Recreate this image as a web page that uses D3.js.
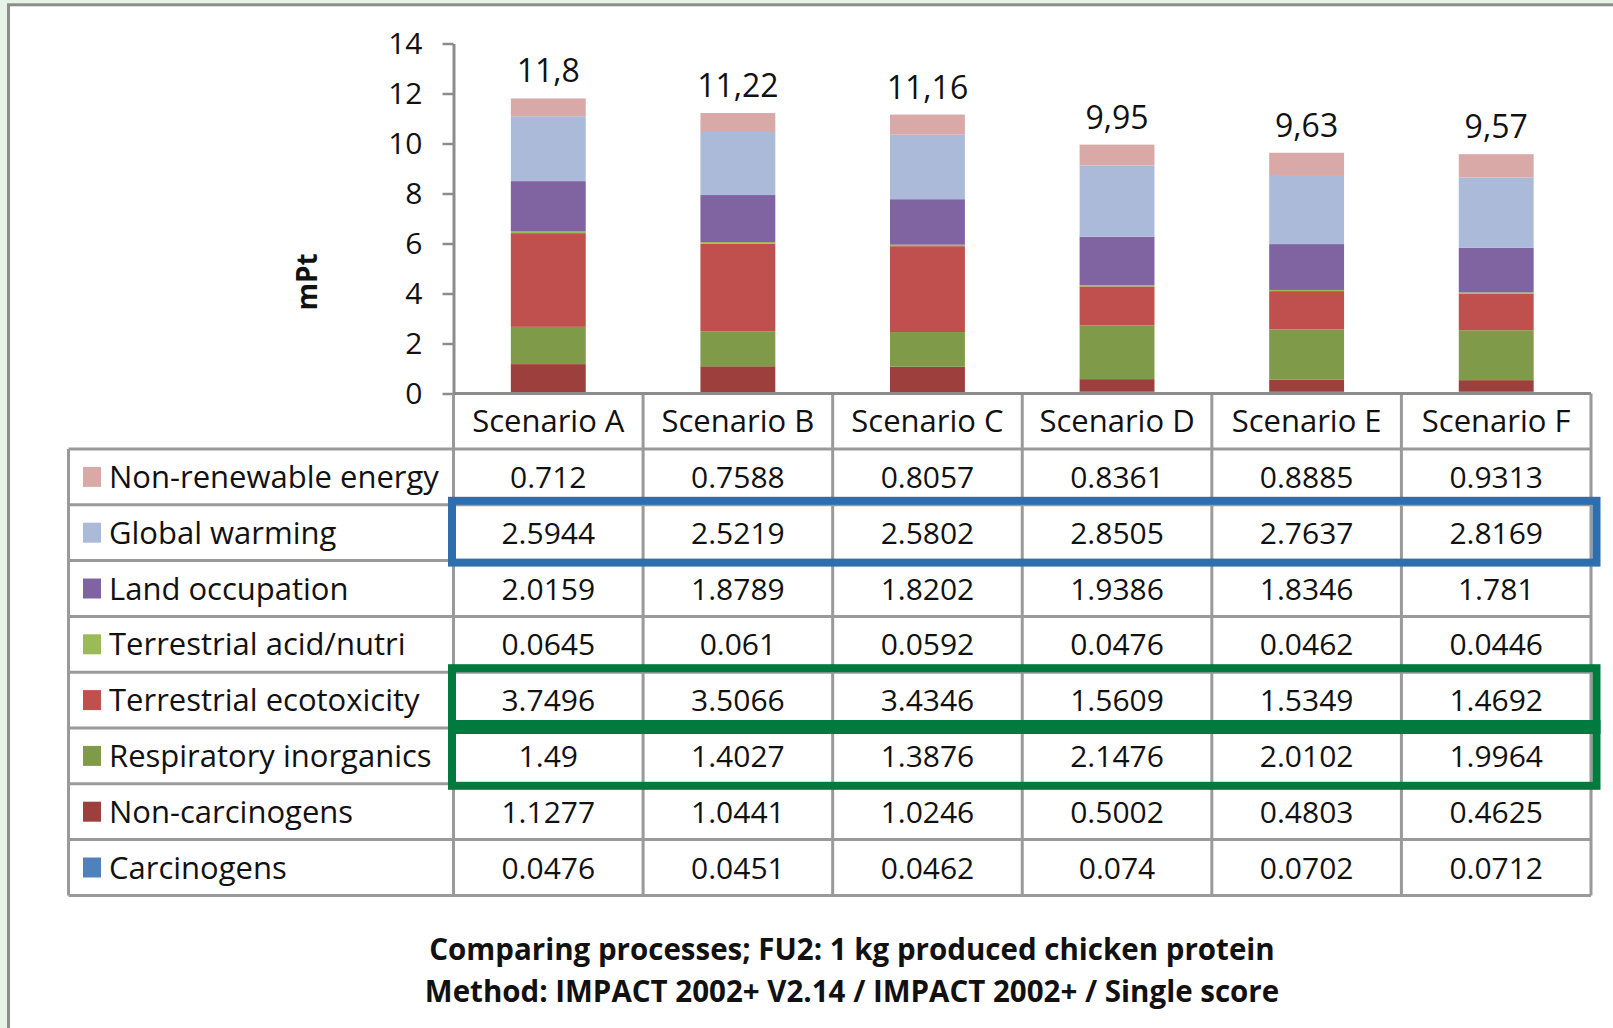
<!DOCTYPE html>
<html>
<head>
<meta charset="utf-8">
<script src="https://cdn.jsdelivr.net/npm/d3@7"></script>
<style>
  body { margin: 0; background: #e6f3e7; }
  svg { display: block; }
  text { font-family: "Open Sans", sans-serif; fill: #111; }
</style>
</head>
<body>
<svg id="chart" width="1613" height="1028"></svg>
<script>
const scenarios = ["Scenario A", "Scenario B", "Scenario C", "Scenario D", "Scenario E", "Scenario F"];

// impact categories, table order (top row first)
const categories = [
  "Non-renewable energy",
  "Global warming",
  "Land occupation",
  "Terrestrial acid/nutri",
  "Terrestrial ecotoxicity",
  "Respiratory inorganics",
  "Non-carcinogens",
  "Carcinogens",
];

const nonRenewableEnergy = [0.712, 0.7588, 0.8057, 0.8361, 0.8885, 0.9313];
const globalWarming = [2.5944, 2.5219, 2.5802, 2.8505, 2.7637, 2.8169];
const landOccupation = [2.0159, 1.8789, 1.8202, 1.9386, 1.8346, 1.781];
const terrestrialAcid = [0.0645, 0.061, 0.0592, 0.0476, 0.0462, 0.0446];
const terrestrialEcotox = [3.7496, 3.5066, 3.4346, 1.5609, 1.5349, 1.4692];
const respiratoryInorganics = [1.49, 1.4027, 1.3876, 2.1476, 2.0102, 1.9964];
const nonCarcinogens = [1.1277, 1.0441, 1.0246, 0.5002, 0.4803, 0.4625];
const carcinogens = [0.0476, 0.0451, 0.0462, 0.074, 0.0702, 0.0712];

const totalLabels = ["11,8", "11,22", "11,16", "9,95", "9,63", "9,57"];
const yTicks = [0, 2, 4, 6, 8, 10, 12, 14];

const seriesValues = [
  nonRenewableEnergy,
  globalWarming,
  landOccupation,
  terrestrialAcid,
  terrestrialEcotox,
  respiratoryInorganics,
  nonCarcinogens,
  carcinogens,
];
const colors = ["#d9a9a8", "#aabad8", "#8064a2", "#9bbb59", "#c0504d", "#7f9a48", "#9c3f3d", "#4f81bd"];

const svg = d3.select("#chart");

const fontSize = 31;
const numSize = 30;
const baseShift = 11; // puts cap height centred on a y
const axisColor = "#8c8c8c";
const gridColor = "#9a9a9a";

// frame
svg.append("rect")
  .attr("x", 8.5).attr("y", 4.8)
  .attr("width", 1700).attr("height", 1100)
  .attr("fill", "#fff")
  .attr("stroke", axisColor)
  .attr("stroke-width", 3);

// rows for d3.stack: one object per scenario
const table = scenarios.map((s, i) => {
  const row = { scenario: s };
  categories.forEach((c, k) => (row[c] = seriesValues[k][i]));
  return row;
});

const left = 453.5, right = 1591;
const xScale = d3.scaleBand().domain(scenarios).range([left, right]);
const yScale = d3.scaleLinear().domain([0, 14]).range([393.5, 43.5]);
const barWidth = xScale.bandwidth() * 0.395;

const stack = d3.stack().keys(categories.slice().reverse()); // carcinogens at the bottom
const stacked = stack(table);
const colorScale = d3.scaleOrdinal().domain(categories).range(colors);

const g = svg.append("g");

g.selectAll("g.layer")
  .data(stacked)
  .enter()
  .append("g")
  .attr("class", "layer")
  .attr("fill", (d) => colorScale(d.key))
  .selectAll("rect")
  .data((d) => d)
  .enter()
  .append("rect")
  .attr("x", (d) => xScale(d.data.scenario) + (xScale.bandwidth() - barWidth) / 2)
  .attr("width", barWidth)
  .attr("y", (d) => yScale(d[1]))
  .attr("height", (d) => yScale(d[0]) - yScale(d[1]));

// total labels above bars
const totals = table.map((r) => d3.sum(categories, (c) => r[c]));
g.selectAll("text.total")
  .data(scenarios)
  .enter()
  .append("text")
  .attr("class", "total")
  .attr("x", (d) => xScale(d) + xScale.bandwidth() / 2)
  .attr("y", (d, i) => yScale(totals[i]) - 16)
  .attr("text-anchor", "middle")
  .attr("font-size", 32)
  .text((d, i) => totalLabels[i]);

// y axis
const yAxisG = svg.append("g")
  .attr("transform", `translate(${left},0)`)
  .call(d3.axisLeft(yScale).tickValues(yTicks).tickSize(11).tickPadding(20).tickSizeOuter(0));
yAxisG.select(".domain").attr("stroke", axisColor).attr("stroke-width", 3);
yAxisG.selectAll(".tick line").attr("stroke", axisColor).attr("stroke-width", 2.5);
yAxisG.selectAll(".tick text")
  .attr("font-size", numSize)
  .attr("font-family", null)
  .attr("fill", "#111");

svg.append("text")
  .text("mPt")
  .attr("transform", "translate(317,282) rotate(-90)")
  .attr("text-anchor", "middle")
  .attr("font-size", 28)
  .attr("font-weight", "bold");

// data table
const rowTop = 449, rowH = 55.8, headerTop = 393.5, tableLeft = 68.5;
const tableBottom = rowTop + rowH * categories.length;
const grid = svg.append("g")
  .attr("stroke", gridColor)
  .attr("stroke-width", 3)
  .attr("fill", "none");

// column lines (through header row)
const bounds = scenarios.map((s) => xScale(s)).concat([right]);
grid.selectAll("line.col")
  .data(bounds)
  .enter()
  .append("line")
  .attr("x1", (d) => d).attr("x2", (d) => d)
  .attr("y1", headerTop).attr("y2", tableBottom);

// row lines
grid.selectAll("line.row")
  .data(d3.range(categories.length + 1))
  .enter()
  .append("line")
  .attr("x1", tableLeft).attr("x2", right)
  .attr("y1", (d) => rowTop + d * rowH)
  .attr("y2", (d) => rowTop + d * rowH);

grid.append("line")
  .attr("x1", tableLeft).attr("x2", tableLeft)
  .attr("y1", rowTop).attr("y2", tableBottom);

// x axis line on top of the header row
svg.append("line")
  .attr("x1", left).attr("x2", right)
  .attr("y1", headerTop).attr("y2", headerTop)
  .attr("stroke", axisColor)
  .attr("stroke-width", 3);

svg.selectAll("text.head")
  .data(scenarios)
  .enter()
  .append("text")
  .attr("x", (d) => xScale(d) + xScale.bandwidth() / 2)
  .attr("y", (headerTop + rowTop) / 2 + baseShift)
  .attr("text-anchor", "middle")
  .attr("font-size", fontSize)
  .text((d) => d);

const rowMid = (i) => rowTop + rowH * (i + 0.5);

// legend keys
svg.selectAll("rect.key")
  .data(categories)
  .enter()
  .append("rect")
  .attr("x", 83)
  .attr("y", (d, i) => rowMid(i) - 10)
  .attr("width", 18)
  .attr("height", 20)
  .attr("fill", (d) => colorScale(d));

svg.selectAll("text.cat")
  .data(categories)
  .enter()
  .append("text")
  .attr("x", 109)
  .attr("y", (d, i) => rowMid(i) + baseShift)
  .attr("font-size", fontSize)
  .text((d) => d);

// cell values
categories.forEach((c, k) => {
  svg.selectAll(null)
    .data(seriesValues[k])
    .enter()
    .append("text")
    .attr("x", (d, i) => xScale(scenarios[i]) + xScale.bandwidth() / 2)
    .attr("y", rowMid(k) + baseShift)
    .attr("text-anchor", "middle")
    .attr("font-size", numSize)
    .text((d) => String(d));
});

// highlight boxes
const highlight = (k0, k1, color) =>
  svg.append("rect")
    .attr("x", left - 1.5)
    .attr("y", rowTop + rowH * k0 - 4)
    .attr("width", right - left + 7)
    .attr("height", rowH * (k1 - k0) + 6)
    .attr("fill", "none")
    .attr("stroke", color)
    .attr("stroke-width", 8);

highlight(1, 2, "#2e6ead");
highlight(4, 5, "#007a3e");
highlight(5, 6, "#007a3e");

// chart title
const titleLines = [
  "Comparing processes; FU2: 1 kg produced chicken protein",
  "Method: IMPACT 2002+ V2.14 / IMPACT 2002+ / Single score",
];
svg.selectAll("text.title")
  .data(titleLines)
  .enter()
  .append("text")
  .attr("x", 852)
  .attr("y", (d, i) => 960 + i * 42)
  .attr("text-anchor", "middle")
  .attr("font-size", 29.5)
  .attr("font-weight", "bold")
  .text((d) => d);
</script>
</body>
</html>
